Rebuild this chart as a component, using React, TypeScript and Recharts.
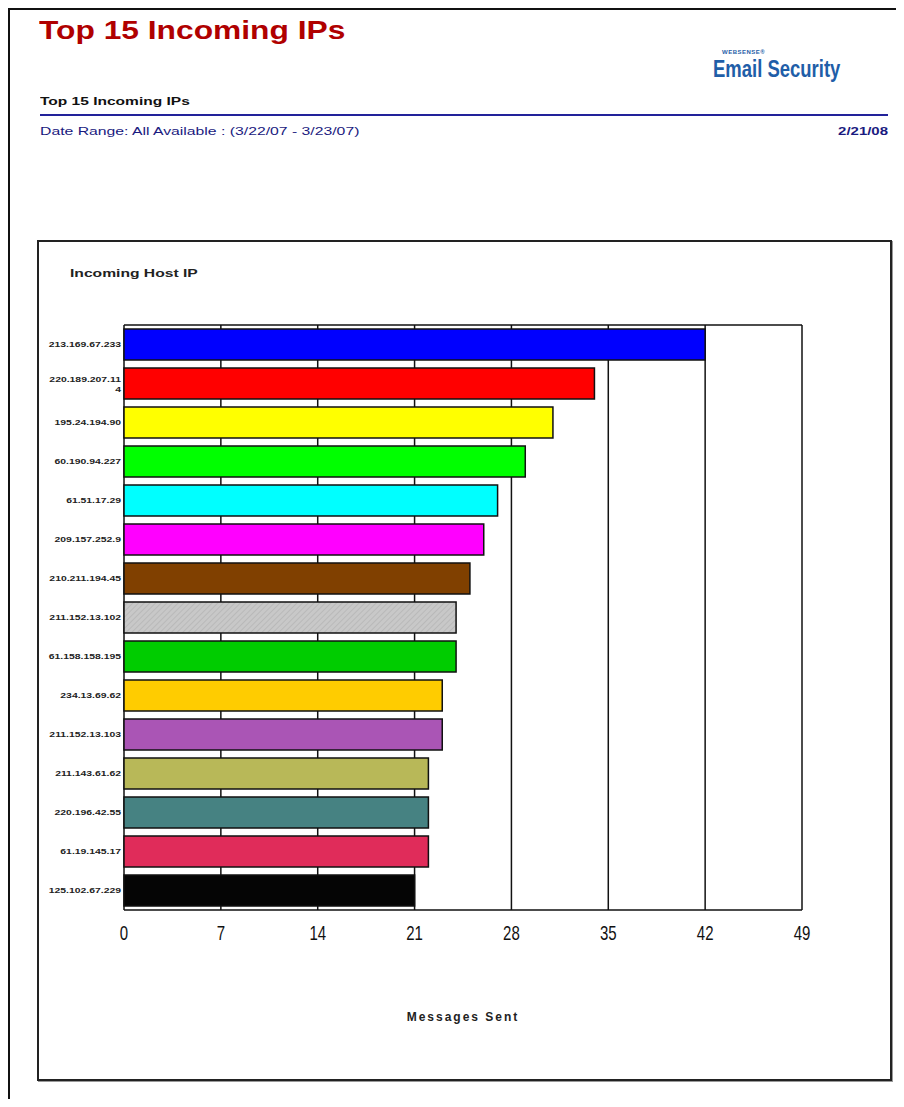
import React from "react";
import { BarChart, Bar, XAxis, YAxis, CartesianGrid, Cell, Label } from "recharts";

const hosts = [
  "213.169.67.233",
  "220.189.207.114",
  "195.24.194.90",
  "60.190.94.227",
  "61.51.17.29",
  "209.157.252.9",
  "210.211.194.45",
  "211.152.13.102",
  "61.158.158.195",
  "234.13.69.62",
  "211.152.13.103",
  "211.143.61.62",
  "220.196.42.55",
  "61.19.145.17",
  "125.102.67.229",
];

const messages = [42, 34, 31, 29, 27, 26, 25, 24, 24, 23, 23, 22, 22, 22, 21];

const barColors = [
  "#0000ff", "#ff0000", "#ffff00", "#00ff00", "#00ffff",
  "#ff00ff", "#804000", "url(#greyHatch)", "#00cc00", "#ffcc00",
  "#aa55b5", "#b8b858", "#468282", "#e02c5a", "#050505",
];

const xTicks = [0, 7, 14, 21, 28, 35, 42, 49];

const data = hosts.map((host, i) => ({ host, sent: messages[i] }));

const CHART_W = 855;
const CHART_H = 841;
const MARGIN = { top: 85, right: 90, bottom: 56, left: 7 };
const X_AXIS_H = 115;

const sans = "Arial, 'Liberation Sans', sans-serif";
// the scanned report text is stretched sideways
const STRETCH = 1.3;

// long IPs wrap after 14 chars like the original report
function IpTick(props: any) {
  const { x, y, payload } = props;
  const s = String(payload.value);
  const lines = s.length > 14 ? [s.slice(0, 14), s.slice(14)] : [s];
  return (
    <text transform={`translate(${x},${y}) scale(${STRETCH},1)`} textAnchor="end" fontSize={8} fontWeight="bold" fill="#222" fontFamily={sans}>
      {lines.map((l, i) => (
        <tspan key={i} x={0} dy={i === 0 ? `${0.35 - (lines.length - 1) * 0.6}em` : "1.3em"}>
          {l}
        </tspan>
      ))}
    </text>
  );
}

// narrow-looking tick numbers
function NumTick(props: any) {
  const { x, y, payload } = props;
  return (
    <text transform={`translate(${x},${y}) scale(0.75,1)`} textAnchor="middle" dy="0.71em" fontSize={20} fill="#111" fontFamily={sans}>
      {payload.value}
    </text>
  );
}

// page coordinates -> coordinates inside the root box (body margin 8px)
function abs(left: number, top: number) {
  return { position: "absolute" as const, left: left - 8, top: top - 8 };
}

function wide(scale: number, origin = "left") {
  return { transform: `scaleX(${scale})`, transformOrigin: `${origin} center`, whiteSpace: "nowrap" as const };
}

export default function App() {
  return (
    <div style={{ position: "relative", width: 888, height: 1091, fontFamily: sans }}>
      {/* page edge */}
      <div style={{ ...abs(8, 5), width: 2, height: 1102, background: "#111" }} />
      <div style={{ ...abs(8, 8), width: 888, height: 2, background: "#111", zIndex: 2 }} />

      {/* report header */}
      <div style={{ ...abs(39, 15), fontSize: 25, lineHeight: "30px", fontWeight: "bold", color: "#b00000", ...wide(1.27) }}>Top 15 Incoming IPs</div>
      <div style={{ ...abs(713, 49), color: "#1f5ea8", whiteSpace: "nowrap" }}>
        <div style={{ fontSize: 6, fontWeight: "bold", marginLeft: 9, letterSpacing: 0.5, lineHeight: "7px" }}>WEBSENSE®</div>
        <div style={{ fontSize: 24, fontWeight: "bold", lineHeight: "26px", ...wide(0.77) }}>Email Security</div>
      </div>
      <div style={{ ...abs(40, 94), fontSize: 11.5, lineHeight: "14px", fontWeight: "bold", color: "#111", ...wide(STRETCH + 0.05) }}>Top 15 Incoming IPs</div>
      <div style={{ ...abs(40, 114), width: 848, height: 2, background: "#22229a" }} />
      <div style={{ ...abs(40, 124), fontSize: 11.5, lineHeight: "14px", color: "#1a1a80", ...wide(STRETCH + 0.07) }}>Date Range: All Available : (3/22/07 - 3/23/07)</div>
      <div style={{ ...abs(780, 124), width: 108, textAlign: "right", fontSize: 11.5, lineHeight: "14px", fontWeight: "bold", color: "#1a1a80", ...wide(STRETCH, "right") }}>2/21/08</div>

      {/* chart frame */}
      <div style={{ ...abs(37, 240), width: 855, height: 841, border: "2px solid #222", boxShadow: "1px 1px 0 #999", boxSizing: "border-box" }} />
      <div style={{ ...abs(70, 266), fontSize: 11.5, lineHeight: "14px", fontWeight: "bold", color: "#222", ...wide(STRETCH + 0.06) }}>Incoming Host IP</div>

      <div style={abs(37, 240)}>
        <BarChart
          width={CHART_W}
          height={CHART_H}
          data={data}
          layout="vertical"
          margin={MARGIN}
          barCategoryGap="10%"
        >
          <defs>
            <pattern id="greyHatch" width="4" height="4" patternUnits="userSpaceOnUse" patternTransform="rotate(45)">
              <rect width="4" height="4" fill="#c8c8c8" />
              <line x1="0" y1="0" x2="0" y2="4" stroke="#b4b4b4" strokeWidth="1.5" />
            </pattern>
          </defs>
          <CartesianGrid
            stroke="#111"
            strokeWidth={1.5}
            horizontalPoints={[MARGIN.top, CHART_H - MARGIN.bottom - X_AXIS_H]}
          />
          <XAxis
            type="number"
            domain={[0, 49]}
            ticks={xTicks}
            interval={0}
            axisLine={false}
            tickLine={false}
            tickSize={0}
            tickMargin={16}
            height={X_AXIS_H}
            tick={NumTick}
          >
            <Label
              value="Messages Sent"
              position="insideBottom"
              offset={4}
              style={{ fontSize: 12, fontWeight: "bold", fill: "#222", fontFamily: sans, letterSpacing: 2 }}
            />
          </XAxis>
          <YAxis
            type="category"
            dataKey="host"
            width={80}
            axisLine={false}
            tickLine={false}
            tickSize={0}
            tickMargin={3}
            interval={0}
            tick={IpTick}
          />
          <Bar dataKey="sent" stroke="#111" strokeWidth={1.5} isAnimationActive={false}>
            {data.map((d, i) => (
              <Cell key={d.host} fill={barColors[i]} />
            ))}
          </Bar>
        </BarChart>
      </div>
    </div>
  );
}
